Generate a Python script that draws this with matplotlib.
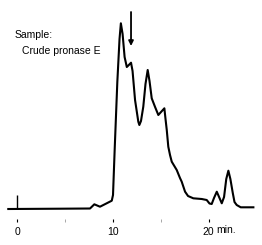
import matplotlib
matplotlib.use("Agg")
import matplotlib.pyplot as plt

# chromatogram: time (min) and detector response (arbitrary)
time_min = [-0.91, 4.49, 7.62, 8.07, 8.66, 9.36, 9.89, 10.02, 10.20, 10.47,
            10.70, 10.84, 11.02, 11.23, 11.46, 11.67, 11.90, 12.06, 12.32, 12.66,
            12.77, 12.94, 13.18, 13.41, 13.64, 13.83, 14.06, 14.41, 14.75, 15.03,
            15.38, 15.50, 15.63, 15.79, 15.97, 16.15, 16.67, 17.01, 17.19, 17.54,
            17.85, 18.40, 19.28, 19.80, 20.09, 20.32, 20.56, 20.85, 21.09, 21.37,
            21.61, 21.84, 22.06, 22.27, 22.52, 22.70, 22.93, 23.35, 24.67]
response = [0, 0.3, 0.5, 4.7, 2.3, 5.7, 8.3, 14, 61, 127,
            170, 185.7, 175, 152, 142, 144, 146.3, 138, 109, 87.3,
            84, 88, 102.3, 125, 139, 128, 110.7, 102, 94, 97,
            100.7, 90, 79, 62.3, 54, 47.3, 39, 31, 27.3, 17.3,
            13, 10.7, 10, 9, 5.5, 5, 11, 17.3, 12, 5.7,
            12, 30, 38.3, 30, 16, 7, 4, 1.7, 1.7]

injection_time = 0.0
injection_height = 14
arrow_time = 11.90
arrow_top = 197
arrow_tip = 163

major_ticks = [0, 10, 20]
major_labels = ["0", "10", "20"]
minor_ticks = [5, 15]

plt.rcParams["font.family"] = ["Liberation Sans", "DejaVu Sans"]

fig = plt.figure(figsize=(2.62, 2.45), dpi=100)
ax = fig.add_axes([0, 0.1061, 1, 0.8735])

ax.plot(time_min, response, color="black", lw=1.5, solid_joinstyle="round")
ax.vlines(injection_time, 0, injection_height, color="black", lw=1.0)

ax.annotate("", xy=(arrow_time, arrow_tip), xytext=(arrow_time, arrow_top),
            arrowprops=dict(arrowstyle="-|>", color="black", lw=1.3,
                            mutation_scale=7, shrinkA=0, shrinkB=0))

ax.set_xlim(-1.775, 25.57)
ax.set_ylim(-10, 204)

for s in ax.spines.values():
    s.set_visible(False)
ax.set_yticks([])
ax.set_xticks(major_ticks)
ax.set_xticklabels(major_labels)
ax.set_xticks(minor_ticks, minor=True)
ax.tick_params(axis="x", which="major", length=2.5, width=0.8, pad=3, labelsize=7.5)
ax.tick_params(axis="x", which="minor", length=2.5, width=0.6, color="#999999")

fig.text(208.5 / 262 + 0.03, 1 - 230 / 245, "min.", fontsize=7.5, va="center", ha="left")
fig.text(15 / 262, 1 - 35 / 245, "Sample:", fontsize=7.5, va="center", ha="left")
fig.text(22 / 262, 1 - 51 / 245, "Crude pronase E", fontsize=7.5, va="center", ha="left")

fig.savefig("out.png", dpi=100)
